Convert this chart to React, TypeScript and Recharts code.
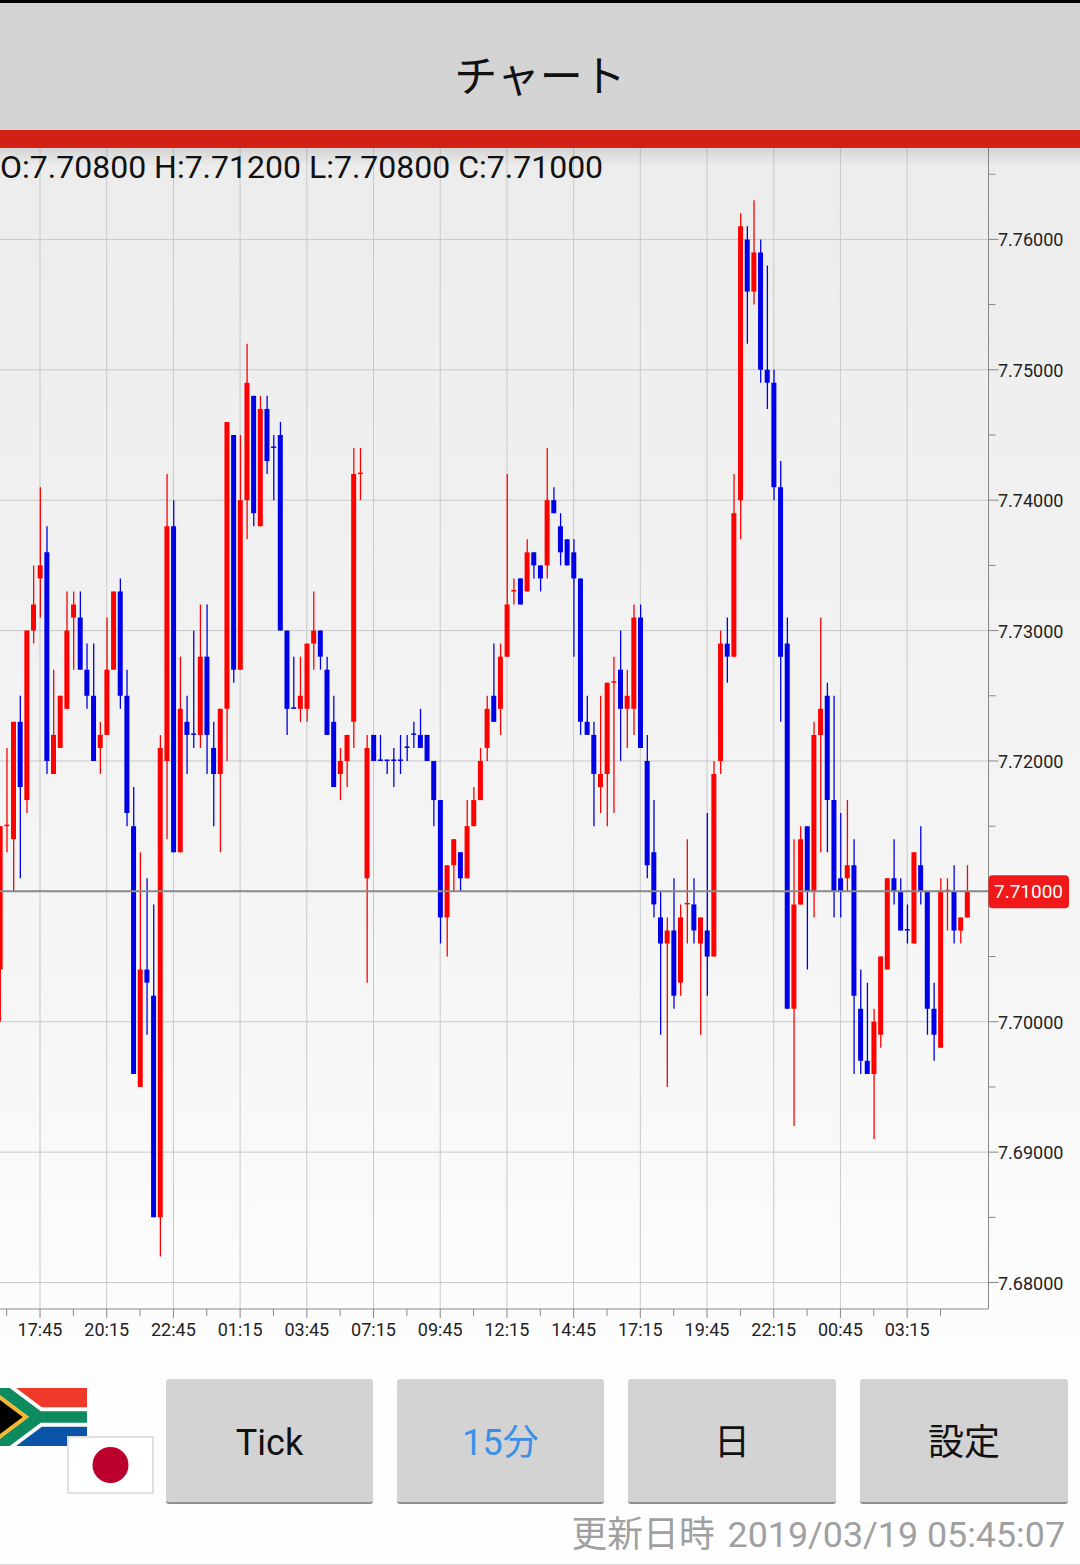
import { Bar, CartesianGrid, Cell, ComposedChart, ReferenceLine, XAxis, YAxis } from 'recharts';

// prices are written in 1/1000 above 7, so 704 means 7.704
const opens = [
  704, 715, 714, 723, 717, 730, 734, 736, 719, 721,
  724, 731, 731, 727, 725, 721, 722, 727, 733, 725,
  715, 695, 704, 702, 685, 720, 738, 713, 723, 722,
  722, 728, 721, 719, 724, 745, 727, 740, 748, 738,
  747, 744, 745, 730, 724, 724, 724, 729, 730, 727,
  723, 719, 720, 723, 742, 711, 722, 720, 720, 720,
  720, 721, 722, 722, 722, 720, 717, 708, 712, 713,
  711, 715, 717, 721, 725, 724, 728, 733, 734, 733,
  736, 735, 735, 740, 738, 737, 736, 734, 723, 722,
  718, 719, 726, 727, 724, 724, 731, 720, 713, 708,
  706, 707, 703, 709, 709, 706, 707, 705, 720, 729,
  728, 740, 760, 756, 759, 750, 749, 741, 729, 701,
  709, 715, 710, 722, 725, 717, 711, 711, 712, 701,
  697, 696, 699, 704, 711, 710, 707, 706, 712, 710,
  701, 698, 710, 710, 707, 708,
];
const highs = [
  715, 721, 723, 725, 730, 735, 741, 738, 727, 725,
  733, 733, 733, 729, 729, 723, 731, 733, 734, 727,
  718, 713, 711, 709, 722, 742, 740, 728, 725, 730,
  732, 732, 723, 724, 746, 745, 745, 752, 748, 748,
  748, 745, 746, 730, 728, 728, 729, 733, 730, 728,
  725, 721, 722, 744, 744, 722, 722, 722, 720, 721,
  722, 722, 723, 724, 722, 720, 717, 712, 714, 713,
  717, 718, 721, 725, 729, 729, 742, 734, 734, 737,
  736, 735, 744, 741, 739, 737, 737, 734, 725, 723,
  725, 726, 728, 730, 727, 732, 732, 722, 717, 710,
  708, 711, 709, 714, 711, 708, 716, 720, 730, 731,
  742, 762, 761, 763, 760, 758, 750, 743, 731, 714,
  715, 715, 723, 731, 726, 725, 716, 717, 714, 704,
  703, 701, 705, 711, 714, 711, 709, 713, 715, 710,
  703, 711, 711, 712, 708, 712,
];
const lows = [
  700, 713, 710, 711, 716, 729, 731, 719, 719, 721,
  724, 727, 727, 724, 720, 719, 722, 727, 724, 715,
  696, 695, 699, 685, 682, 714, 713, 713, 719, 721,
  721, 719, 715, 713, 720, 726, 727, 737, 738, 738,
  742, 740, 730, 722, 724, 723, 723, 727, 727, 722,
  718, 717, 718, 721, 740, 703, 720, 720, 719, 718,
  719, 720, 721, 721, 720, 715, 706, 705, 710, 710,
  711, 715, 717, 720, 723, 722, 728, 732, 732, 733,
  734, 733, 734, 739, 735, 735, 728, 722, 722, 715,
  716, 715, 716, 720, 721, 722, 721, 711, 708, 699,
  695, 701, 702, 706, 706, 699, 702, 705, 719, 726,
  728, 737, 752, 755, 749, 747, 740, 723, 701, 692,
  709, 704, 708, 713, 713, 708, 708, 710, 696, 696,
  696, 691, 698, 704, 709, 707, 706, 706, 709, 699,
  697, 698, 707, 706, 706, 708,
];
const closes = [
  715, 715, 723, 718, 730, 732, 735, 720, 722, 725,
  730, 732, 727, 725, 720, 722, 727, 733, 725, 716,
  696, 704, 703, 685, 721, 738, 713, 724, 722, 722,
  728, 722, 719, 724, 746, 727, 740, 749, 739, 747,
  743, 744, 730, 724, 724, 725, 729, 730, 728, 722,
  718, 720, 722, 742, 742, 721, 720, 720, 720, 720,
  720, 721, 722, 721, 720, 717, 708, 712, 714, 711,
  715, 717, 720, 724, 723, 728, 732, 733, 732, 736,
  735, 734, 740, 739, 736, 735, 734, 723, 722, 719,
  719, 726, 726, 724, 725, 731, 721, 712, 709, 706,
  707, 702, 708, 709, 707, 708, 705, 719, 729, 728,
  739, 761, 756, 759, 750, 749, 741, 728, 701, 709,
  714, 710, 722, 724, 717, 710, 710, 712, 702, 697,
  696, 700, 705, 711, 710, 707, 707, 713, 710, 701,
  699, 710, 710, 707, 708, 710,
];
// R = red (up), B = blue (down); needed because some flat candles are blue
const sides = 'RRRBRRRBRR' + 'RRBBBRRRBB' + 'BRBBRRBRBB' + 'RBBRRBRRBR' + 'BBBBBRRRBB' + 'BRRRRRBBBB' + 'BBBBBBBRRB'
  + 'RRRRBRRRBR' + 'BBRBBBBBBB' + 'RRRBRRBBBB' + 'RBRRBRBRRB' + 'RRBRBBBBBR' + 'RBRRBBBRBB' + 'BRRRBBBRBB' + 'BRRBRR';

const timeLabels = ['17:45', '20:15', '22:45', '01:15', '03:45', '07:15', '09:45', '12:15', '14:45', '17:15', '19:45', '22:15', '00:45', '03:15'];
const minorXTicks = [-5, 5, 15, 25, 35, 45, 55, 65, 75, 85, 95, 105, 115, 125, 135];
const majorXTicks = [0, 10, 20, 30, 40, 50, 60, 70, 80, 90, 100, 110, 120, 130];
const majorYTicks = [7.68, 7.69, 7.7, 7.71, 7.72, 7.73, 7.74, 7.75, 7.76];
const minorYTicks = [7.685, 7.695, 7.705, 7.715, 7.725, 7.735, 7.745, 7.755, 7.765];
const lastPrice = 7.71;
const buttons = ['Tick', '15分', '日', '設定'];

const FONT = "Roboto, 'Noto Sans CJK JP', sans-serif";
const RED = '#ff0000';
const BLUE = '#0000e6';

const price = (m: number) => 7 + m / 1000;
const rows = opens.map((open, i) => ({
  index: i - 6,
  wick: [price(lows[i]), price(highs[i])],
  body: [price(Math.min(open, closes[i])), price(Math.max(open, closes[i]))],
  side: sides[i],
}));

const last = opens.length - 1;
const ohlc = `O:${price(opens[last]).toFixed(5)} H:${price(highs[last]).toFixed(5)} L:${price(lows[last]).toFixed(5)} C:${price(closes[last]).toFixed(5)}`;

function TimeTick({ x, y, payload }: any) {
  const pos = majorXTicks.indexOf(payload.value);
  return (
    <g>
      <line x1={x} x2={x} y1={y} y2={y + (pos >= 0 ? 9 : 7)} stroke="#888" strokeWidth={1} />
      {pos >= 0 && <text x={x} y={y + 27} textAnchor="middle" fontSize={18} fontFamily={FONT} fill="#222">{timeLabels[pos]}</text>}
    </g>
  );
}

function PriceTick({ x, y, payload }: any) {
  const major = majorYTicks.includes(payload.value);
  const isLast = payload.value === lastPrice;
  return (
    <g>
      <line x1={x} x2={x + (major ? 10 : 7)} y1={y} y2={y} stroke="#888" strokeWidth={1} />
      {major && !isLast && <text x={x + 9.5} y={y + 7} fontSize={18} fontFamily={FONT} fill="#222">{payload.value.toFixed(5)}</text>}
      {isLast && (
        <g>
          <rect x={x} y={y - 16} width={80.5} height={33} rx={4} fill="#f01818" />
          <text x={x + 40} y={y + 7} textAnchor="middle" fontSize={19} fontFamily={FONT} fill="#fff">{payload.value.toFixed(5)}</text>
        </g>
      )}
    </g>
  );
}

function ZarFlag() {
  return (
    <svg width={87} height={58} viewBox="0 0 900 600" style={{ position: 'absolute', left: 0, top: 1388 }}>
      <rect width={900} height={300} fill="#f0392a" />
      <rect y={300} width={900} height={300} fill="#0a54a8" />
      <path d="M0 0 L400 300 L900 300 M0 600 L400 300" fill="none" stroke="#fff" strokeWidth={200} />
      <path d="M0 0 L400 300 L900 300 M0 600 L400 300" fill="none" stroke="#0d8a5e" strokeWidth={120} />
      <polygon points="0,75 300,300 0,525" fill="#f5b52e" />
      <polygon points="0,125 235,300 0,475" fill="#000" />
    </svg>
  );
}

function JpyFlag() {
  return (
    <svg width={87} height={58} viewBox="0 0 87 58" style={{ position: 'absolute', left: 67, top: 1436 }}>
      <rect x={1} y={1} width={85} height={56} fill="#fff" stroke="#e0e0e0" strokeWidth={2} />
      <circle cx={43.5} cy={29} r={18} fill="#bc002d" />
    </svg>
  );
}

export default function App() {
  return (
    <div style={{ position: 'absolute', left: 0, top: 0, width: 1080, height: 1565, overflow: 'hidden', fontFamily: FONT, background: 'linear-gradient(#ececec 148px, #f6f6f6 1000px, #fefefe 1400px)' }}>
      <ComposedChart
        width={1080}
        height={1350}
        data={rows}
        margin={{ top: 148, right: 0, bottom: 0, left: 0 }}
        style={{ position: 'absolute', left: 0, top: 0 }}
      >
        <CartesianGrid stroke="#c9c9c9" strokeWidth={1} horizontalValues={majorYTicks} verticalValues={majorXTicks} syncWithTicks={false} />
        <XAxis
          type="number"
          dataKey="index"
          domain={[-6, 142.2]}
          allowDataOverflow
          ticks={[...minorXTicks, ...majorXTicks].sort((a, b) => a - b)}
          interval={0}
          height={41}
          stroke="#888"
          tickLine={false}
          tickSize={0}
          tickMargin={0}
          tick={<TimeTick />}
        />
        <XAxis xAxisId="body" type="number" dataKey="index" domain={[-6, 142.2]} allowDataOverflow ticks={majorXTicks} hide />
        <YAxis
          type="number"
          orientation="right"
          domain={[7.67797, 7.76701]}
          allowDataOverflow
          ticks={[...majorYTicks, ...minorYTicks].sort((a, b) => a - b)}
          interval={0}
          width={91.5}
          stroke="#888"
          tickLine={false}
          tickSize={0}
          tickMargin={0}
          tick={<PriceTick />}
        />
        <Bar dataKey="wick" barSize={1.3} isAnimationActive={false}>
          {rows.map((r) => <Cell key={r.index} fill={r.side === 'R' ? RED : BLUE} />)}
        </Bar>
        <Bar xAxisId="body" dataKey="body" barSize={5} minPointSize={1.5} isAnimationActive={false}>
          {rows.map((r) => <Cell key={r.index} fill={r.side === 'R' ? RED : BLUE} />)}
        </Bar>
        <ReferenceLine y={lastPrice} stroke="#8a8a8a" strokeWidth={2} />
      </ComposedChart>

      <div style={{ position: 'absolute', left: 0, top: 148, fontSize: 32, lineHeight: '38px', color: '#111', whiteSpace: 'nowrap' }}>{ohlc}</div>

      <div style={{ position: 'absolute', left: 0, top: 148, width: 1080, height: 18, background: 'linear-gradient(rgba(0,0,0,0.10), rgba(0,0,0,0))' }} />
      <div style={{ position: 'absolute', left: 0, top: 0, width: 1080, height: 130, background: '#d4d4d4', borderTop: '3px solid #000', boxSizing: 'border-box', textAlign: 'center', fontSize: 43, lineHeight: '148px', color: '#111' }}>チャート</div>
      <div style={{ position: 'absolute', left: 0, top: 130, width: 1080, height: 18, background: '#d22014' }} />

      <ZarFlag />
      <JpyFlag />

      {buttons.map((label, i) => (
        <div
          key={label}
          style={{
            position: 'absolute',
            left: [166, 397, 628, 860][i],
            top: 1379,
            width: [207, 207, 208, 208][i],
            height: 125,
            boxSizing: 'border-box',
            background: '#d3d3d3',
            borderRadius: 3,
            borderBottom: '2px solid #8f8f8f',
            textAlign: 'center',
            fontSize: 36,
            lineHeight: '128px',
            color: label === '15分' ? '#3d8fe6' : '#111',
          }}
        >
          {label}
        </div>
      ))}

      <div style={{ position: 'absolute', right: 15, top: 1513, fontSize: 35.8, lineHeight: '44px', color: '#a0a0a0', whiteSpace: 'nowrap' }}>
        <span style={{ marginRight: 4 }}>更新日時</span> 2019/03/19 05:45:07
      </div>
      <div style={{ position: 'absolute', left: 0, top: 1564, width: 1080, height: 1, background: '#d8d8d8' }} />
    </div>
  );
}
